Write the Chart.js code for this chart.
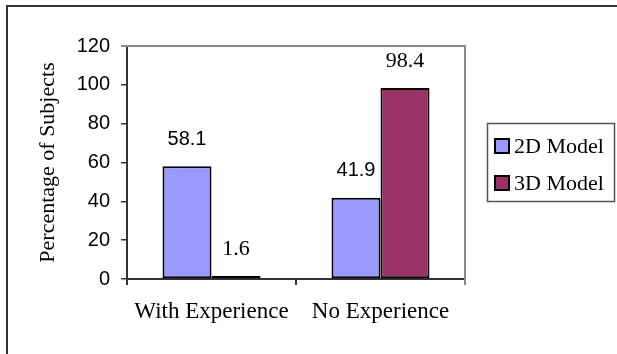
<!DOCTYPE html>
<html lang="en">
<head>
    <meta charset="UTF-8">
    <title>Experience vs model preference</title>
    <script src="https://cdn.jsdelivr.net/npm/chart.js"></script>
    <style>
        html, body {
            margin: 0;
            padding: 0;
            background: white;
        }
        .frame {
            position: absolute;
            left: 6px;
            top: 5px;
            width: 700px;
            height: 400px;
            border-left: 2px solid #333;
            border-top: 2px solid #333;
        }
        .chart-box {
            position: absolute;
            left: 0;
            top: 0;
            width: 617px;
            height: 354px;
        }
    </style>
</head>
<body>
    <div class="frame"></div>
    <div class="chart-box">
        <canvas id="expChart" width="617" height="354"></canvas>
    </div>

    <script>
        // data
        const categories = ['With Experience', 'No Experience'];
        const seriesNames = ['2D Model', '3D Model'];
        const values2D = [58.1, 41.9];
        const values3D = [1.6, 98.4];
        const yMin = 0;
        const yMax = 120;
        const yStep = 20;

        const SANS = '"Liberation Sans", Arial, sans-serif';
        const SERIF = '"Liberation Serif", "Times New Roman", serif';

        // gray frame on top and right of the plot area
        const plotFrame = {
            id: 'plotFrame',
            beforeDatasetsDraw(chart) {
                const { ctx, chartArea: a } = chart;
                ctx.save();
                ctx.strokeStyle = '#888';
                ctx.lineWidth = 2;
                ctx.beginPath();
                ctx.moveTo(a.left - 6, a.top);
                ctx.lineTo(a.right, a.top);
                ctx.lineTo(a.right, a.bottom + 6);
                ctx.stroke();
                ctx.restore();
            }
        };

        // value labels above each bar
        const barLabels = {
            id: 'barLabels',
            afterDatasetsDraw(chart) {
                const { ctx } = chart;
                ctx.save();
                ctx.fillStyle = '#000';
                ctx.textAlign = 'center';
                ctx.textBaseline = 'middle';
                chart.data.datasets.forEach((ds, i) => {
                    ctx.font = i === 0 ? '20px ' + SANS : '22px ' + SERIF;
                    chart.getDatasetMeta(i).data.forEach((bar, j) => {
                        ctx.fillText(String(ds.data[j]), bar.x, bar.y - 27);
                    });
                });
                ctx.restore();
            }
        };

        // boxed legend on the right
        const boxLegend = {
            id: 'boxLegend',
            afterDraw(chart) {
                const { ctx } = chart;
                ctx.save();
                ctx.strokeStyle = '#555';
                ctx.lineWidth = 1.5;
                ctx.strokeRect(487.5, 123.5, 127, 78);
                ctx.font = '22px ' + SERIF;
                ctx.textBaseline = 'middle';
                ctx.textAlign = 'left';
                chart.data.datasets.forEach((ds, i) => {
                    const y = 139 + i * 37;
                    ctx.fillStyle = ds.backgroundColor;
                    ctx.fillRect(495, y, 14, 14);
                    ctx.strokeStyle = '#000';
                    ctx.lineWidth = 2;
                    ctx.strokeRect(495, y, 14, 14);
                    ctx.fillStyle = '#000';
                    ctx.fillText(ds.label, 514, y + 8);
                });
                ctx.restore();
            }
        };

        const ctx = document.getElementById('expChart').getContext('2d');
        new Chart(ctx, {
            type: 'bar',
            data: {
                labels: categories,
                datasets: [{
                    label: seriesNames[0],
                    data: values2D,
                    backgroundColor: '#9999FF',
                    borderColor: '#000',
                    borderWidth: 2,
                    borderSkipped: false
                }, {
                    label: seriesNames[1],
                    data: values3D,
                    backgroundColor: '#993366',
                    borderColor: '#000',
                    borderWidth: 2,
                    borderSkipped: false
                }]
            },
            options: {
                responsive: false,
                animation: false,
                categoryPercentage: 0.58,
                barPercentage: 1.0,
                layout: {
                    padding: { left: 0, top: 46, right: 152, bottom: 0 }
                },
                plugins: {
                    legend: { display: false },
                    tooltip: { enabled: false }
                },
                scales: {
                    x: {
                        afterFit(scale) { scale.height = 75; },
                        border: { display: true, color: '#333', width: 2 },
                        grid: {
                            display: true,
                            drawOnChartArea: false,
                            drawTicks: true,
                            tickLength: 6,
                            color: '#333',
                            lineWidth: 2,
                            offset: true
                        },
                        ticks: {
                            color: '#000',
                            font: { family: SERIF, size: 23 },
                            padding: 13
                        }
                    },
                    y: {
                        min: yMin,
                        max: yMax,
                        afterFit(scale) { scale.width = 127; },
                        border: { display: true, color: '#333', width: 2 },
                        grid: {
                            display: true,
                            drawOnChartArea: false,
                            drawTicks: true,
                            tickLength: 6,
                            color: '#333',
                            lineWidth: 1.5
                        },
                        ticks: {
                            stepSize: yStep,
                            color: '#000',
                            font: { family: SANS, size: 20 },
                            padding: 11
                        },
                        title: {
                            display: true,
                            text: 'Percentage of Subjects',
                            color: '#000',
                            font: { family: SERIF, size: 22 },
                            padding: { top: 35, bottom: 0 }
                        }
                    }
                }
            },
            plugins: [plotFrame, barLabels, boxLegend]
        });
    </script>
</body>
</html>
